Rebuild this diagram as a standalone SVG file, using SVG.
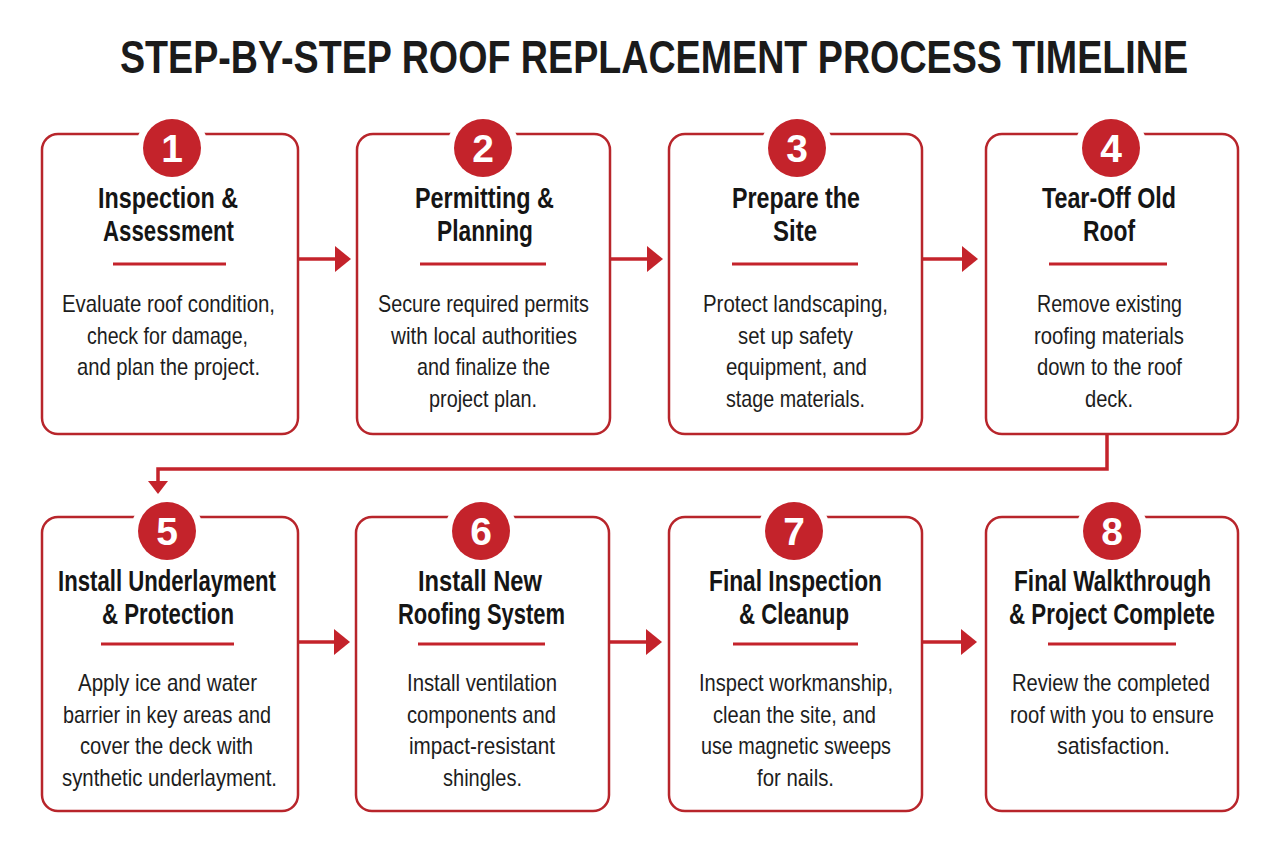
<svg xmlns="http://www.w3.org/2000/svg" width="1280" height="853" viewBox="0 0 1280 853">
<style>
.bg{fill:#ffffff}
.title{font-family:"Liberation Sans",Arial,sans-serif;font-weight:bold;font-size:46px;fill:#1b1b1b;text-anchor:middle}
.box{fill:#ffffff;stroke:#b8252b;stroke-width:2.5}
.halo{fill:#ffffff}
.badge{fill:#c4232b}
.num{font-family:"Liberation Sans",Arial,sans-serif;font-weight:bold;font-size:39px;fill:#ffffff;text-anchor:middle}
.head{font-family:"Liberation Sans",Arial,sans-serif;font-weight:bold;font-size:30px;fill:#151515;text-anchor:middle}
.body{font-family:"Liberation Sans",Arial,sans-serif;font-size:24px;fill:#1d1d1d;text-anchor:middle}
.rule{stroke:#c4232b;stroke-width:3}
.conn{fill:none;stroke:#c4232b;stroke-width:3.5}
</style>
<defs>
<marker id="ah" viewBox="0 0 16 26" refX="2" refY="13" markerWidth="16" markerHeight="26" markerUnits="userSpaceOnUse" orient="auto">
<path d="M0 0 L16 13 L0 26 Z" fill="#c4232b"/>
</marker>
<marker id="ahd" viewBox="0 0 13 20" refX="2" refY="10" markerWidth="13" markerHeight="20" markerUnits="userSpaceOnUse" orient="auto">
<path d="M0 0 L13 10 L0 20 Z" fill="#c4232b"/>
</marker>
</defs>
<rect class="bg" x="0" y="0" width="1280" height="853"/>
<text class="title" x="654" y="73" textLength="1068" lengthAdjust="spacingAndGlyphs">STEP-BY-STEP ROOF REPLACEMENT PROCESS TIMELINE</text>

<g id="connectors">
<path class="conn" d="M299 259 H337" marker-end="url(#ah)"/>
<path class="conn" d="M611 259 H649" marker-end="url(#ah)"/>
<path class="conn" d="M923 259 H964" marker-end="url(#ah)"/>
<path class="conn" d="M1107 434 V469 H158 V483" marker-end="url(#ahd)"/>
<path class="conn" d="M299 642 H336" marker-end="url(#ah)"/>
<path class="conn" d="M610 642 H648" marker-end="url(#ah)"/>
<path class="conn" d="M923 642 H963" marker-end="url(#ah)"/>
</g>

<g id="step1">
<rect class="box" x="42" y="134" width="256" height="300" rx="16"/>
<circle class="halo" cx="172" cy="148" r="36"/>
<circle class="badge" cx="172" cy="148" r="29"/>
<text class="num" x="172" y="162">1</text>
<text class="head" x="168" y="208" textLength="140" lengthAdjust="spacingAndGlyphs">Inspection &amp;</text>
<text class="head" x="168.5" y="241" textLength="131" lengthAdjust="spacingAndGlyphs">Assessment</text>
<line class="rule" x1="113" y1="264" x2="226" y2="264"/>
<text class="body" x="168.5" y="312" textLength="213" lengthAdjust="spacingAndGlyphs">Evaluate roof condition,</text>
<text class="body" x="167.5" y="343.5" textLength="161" lengthAdjust="spacingAndGlyphs">check for damage,</text>
<text class="body" x="168.5" y="375" textLength="183" lengthAdjust="spacingAndGlyphs">and plan the project.</text>
</g>

<g id="step2">
<rect class="box" x="357" y="134" width="253" height="300" rx="16"/>
<circle class="halo" cx="483" cy="148" r="36"/>
<circle class="badge" cx="483" cy="148" r="29"/>
<text class="num" x="483" y="162">2</text>
<text class="head" x="484.5" y="208" textLength="139" lengthAdjust="spacingAndGlyphs">Permitting &amp;</text>
<text class="head" x="485" y="241" textLength="96" lengthAdjust="spacingAndGlyphs">Planning</text>
<line class="rule" x1="420" y1="264" x2="546" y2="264"/>
<text class="body" x="483.5" y="312" textLength="211" lengthAdjust="spacingAndGlyphs">Secure required permits</text>
<text class="body" x="484" y="343.5" textLength="186" lengthAdjust="spacingAndGlyphs">with local authorities</text>
<text class="body" x="483.5" y="375" textLength="133" lengthAdjust="spacingAndGlyphs">and finalize the</text>
<text class="body" x="483" y="406.5" textLength="108" lengthAdjust="spacingAndGlyphs">project plan.</text>
</g>

<g id="step3">
<rect class="box" x="669" y="134" width="253" height="300" rx="16"/>
<circle class="halo" cx="797" cy="148" r="36"/>
<circle class="badge" cx="797" cy="148" r="29"/>
<text class="num" x="797" y="162">3</text>
<text class="head" x="796" y="208" textLength="128" lengthAdjust="spacingAndGlyphs">Prepare the</text>
<text class="head" x="795" y="241" textLength="44" lengthAdjust="spacingAndGlyphs">Site</text>
<line class="rule" x1="732" y1="264" x2="858" y2="264"/>
<text class="body" x="795.5" y="312" textLength="185" lengthAdjust="spacingAndGlyphs">Protect landscaping,</text>
<text class="body" x="795.5" y="343.5" textLength="115" lengthAdjust="spacingAndGlyphs">set up safety</text>
<text class="body" x="796.5" y="375" textLength="141" lengthAdjust="spacingAndGlyphs">equipment, and</text>
<text class="body" x="795.5" y="406.5" textLength="139" lengthAdjust="spacingAndGlyphs">stage materials.</text>
</g>

<g id="step4">
<rect class="box" x="986" y="134" width="252" height="300" rx="16"/>
<circle class="halo" cx="1111" cy="148" r="36"/>
<circle class="badge" cx="1111" cy="148" r="29"/>
<text class="num" x="1111" y="162">4</text>
<text class="head" x="1109" y="208" textLength="134" lengthAdjust="spacingAndGlyphs">Tear-Off Old</text>
<text class="head" x="1109" y="241" textLength="52" lengthAdjust="spacingAndGlyphs">Roof</text>
<line class="rule" x1="1049" y1="264" x2="1167" y2="264"/>
<text class="body" x="1109.5" y="312" textLength="145" lengthAdjust="spacingAndGlyphs">Remove existing</text>
<text class="body" x="1109" y="343.5" textLength="150" lengthAdjust="spacingAndGlyphs">roofing materials</text>
<text class="body" x="1109.5" y="375" textLength="145" lengthAdjust="spacingAndGlyphs">down to the roof</text>
<text class="body" x="1109" y="406.5" textLength="48" lengthAdjust="spacingAndGlyphs">deck.</text>
</g>

<g id="step5">
<rect class="box" x="42" y="517" width="256" height="294" rx="16"/>
<circle class="halo" cx="167" cy="531" r="36"/>
<circle class="badge" cx="167" cy="531" r="29"/>
<text class="num" x="167" y="545">5</text>
<text class="head" x="167" y="591" textLength="218" lengthAdjust="spacingAndGlyphs">Install Underlayment</text>
<text class="head" x="168" y="624" textLength="132" lengthAdjust="spacingAndGlyphs">&amp; Protection</text>
<line class="rule" x1="101" y1="644" x2="234" y2="644"/>
<text class="body" x="167.5" y="691" textLength="179" lengthAdjust="spacingAndGlyphs">Apply ice and water</text>
<text class="body" x="167" y="722.5" textLength="208" lengthAdjust="spacingAndGlyphs">barrier in key areas and</text>
<text class="body" x="166.5" y="754" textLength="173" lengthAdjust="spacingAndGlyphs">cover the deck with</text>
<text class="body" x="169.5" y="785.5" textLength="215" lengthAdjust="spacingAndGlyphs">synthetic underlayment.</text>
</g>

<g id="step6">
<rect class="box" x="356" y="517" width="253" height="294" rx="16"/>
<circle class="halo" cx="481" cy="531" r="36"/>
<circle class="badge" cx="481" cy="531" r="29"/>
<text class="num" x="481" y="545">6</text>
<text class="head" x="480" y="591" textLength="124" lengthAdjust="spacingAndGlyphs">Install New</text>
<text class="head" x="481.5" y="624" textLength="167" lengthAdjust="spacingAndGlyphs">Roofing System</text>
<line class="rule" x1="418" y1="644" x2="545" y2="644"/>
<text class="body" x="482" y="691" textLength="150" lengthAdjust="spacingAndGlyphs">Install ventilation</text>
<text class="body" x="481.5" y="722.5" textLength="149" lengthAdjust="spacingAndGlyphs">components and</text>
<text class="body" x="482" y="754" textLength="146" lengthAdjust="spacingAndGlyphs">impact-resistant</text>
<text class="body" x="482.5" y="785.5" textLength="79" lengthAdjust="spacingAndGlyphs">shingles.</text>
</g>

<g id="step7">
<rect class="box" x="669" y="517" width="253" height="294" rx="16"/>
<circle class="halo" cx="794" cy="531" r="36"/>
<circle class="badge" cx="794" cy="531" r="29"/>
<text class="num" x="794" y="545">7</text>
<text class="head" x="795.5" y="591" textLength="173" lengthAdjust="spacingAndGlyphs">Final Inspection</text>
<text class="head" x="794" y="624" textLength="110" lengthAdjust="spacingAndGlyphs">&amp; Cleanup</text>
<line class="rule" x1="733" y1="644" x2="858" y2="644"/>
<text class="body" x="796" y="691" textLength="194" lengthAdjust="spacingAndGlyphs">Inspect workmanship,</text>
<text class="body" x="794.5" y="722.5" textLength="163" lengthAdjust="spacingAndGlyphs">clean the site, and</text>
<text class="body" x="796" y="754" textLength="190" lengthAdjust="spacingAndGlyphs">use magnetic sweeps</text>
<text class="body" x="795.5" y="785.5" textLength="77" lengthAdjust="spacingAndGlyphs">for nails.</text>
</g>

<g id="step8">
<rect class="box" x="986" y="517" width="252" height="294" rx="16"/>
<circle class="halo" cx="1112" cy="531" r="36"/>
<circle class="badge" cx="1112" cy="531" r="29"/>
<text class="num" x="1112" y="545">8</text>
<text class="head" x="1112.5" y="591" textLength="197" lengthAdjust="spacingAndGlyphs">Final Walkthrough</text>
<text class="head" x="1112" y="624" textLength="206" lengthAdjust="spacingAndGlyphs">&amp; Project Complete</text>
<line class="rule" x1="1048" y1="644" x2="1176" y2="644"/>
<text class="body" x="1111" y="691" textLength="198" lengthAdjust="spacingAndGlyphs">Review the completed</text>
<text class="body" x="1112" y="722.5" textLength="204" lengthAdjust="spacingAndGlyphs">roof with you to ensure</text>
<text class="body" x="1113.5" y="754" textLength="113" lengthAdjust="spacingAndGlyphs">satisfaction.</text>
</g>
</svg>
